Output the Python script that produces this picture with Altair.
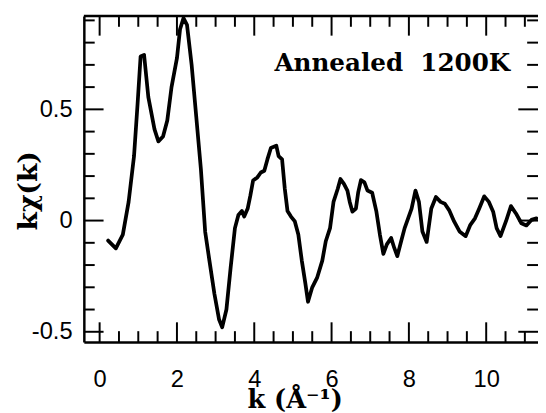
import altair as alt
import pandas as pd

# ---- data ----
K = [0.22, 0.42, 0.60, 0.75, 0.89, 0.98, 1.06, 1.15, 1.26, 1.42, 1.52, 1.64, 1.75, 1.86,
     2.00, 2.08, 2.17, 2.26, 2.38, 2.50, 2.62, 2.73, 2.84, 2.97, 3.09, 3.17, 3.28, 3.39,
     3.50, 3.59, 3.68, 3.74, 3.83, 3.90, 3.97, 4.08, 4.17, 4.26, 4.34, 4.43, 4.57, 4.63,
     4.72, 4.79, 4.86, 4.95, 5.05, 5.14, 5.23, 5.32, 5.39, 5.50, 5.63, 5.76, 5.85, 5.96,
     6.05, 6.16, 6.23, 6.32, 6.41, 6.47, 6.54, 6.63, 6.69, 6.76, 6.85, 6.93, 7.05, 7.16,
     7.25, 7.34, 7.43, 7.54, 7.62, 7.70, 7.80, 7.89, 7.98, 8.07, 8.17, 8.26, 8.35, 8.46,
     8.58, 8.70, 8.82, 8.93, 9.04, 9.17, 9.31, 9.47, 9.59, 9.71, 9.82, 9.95, 10.07, 10.18,
     10.27, 10.37, 10.51, 10.64, 10.77, 10.91, 11.04, 11.17, 11.30]
KCHI = [-0.090, -0.125, -0.063, 0.084, 0.290, 0.520, 0.738, 0.745, 0.555, 0.410, 0.356,
        0.378, 0.450, 0.600, 0.730, 0.860, 0.910, 0.880, 0.700, 0.466, 0.230, -0.050,
        -0.180, -0.330, -0.445, -0.480, -0.400, -0.210, -0.034, 0.025, 0.043, 0.018,
        0.054, 0.113, 0.180, 0.194, 0.216, 0.224, 0.275, 0.326, 0.337, 0.290, 0.275,
        0.143, 0.043, 0.018, -0.004, -0.063, -0.180, -0.280, -0.365, -0.300, -0.255,
        -0.180, -0.093, -0.034, 0.084, 0.143, 0.187, 0.165, 0.135, 0.084, 0.040, 0.054,
        0.128, 0.182, 0.172, 0.135, 0.125, 0.040, -0.063, -0.150, -0.107, -0.078,
        -0.122, -0.160, -0.093, -0.034, 0.010, 0.054, 0.135, 0.084, -0.049, -0.096,
        0.054, 0.106, 0.084, 0.076, 0.047, -0.004, -0.049, -0.070, -0.019, 0.010, 0.054,
        0.109, 0.084, 0.040, -0.034, -0.070, -0.004, 0.065, 0.032, -0.012, -0.022,
        0.003, 0.010]

X_MAJOR = [0, 2, 4, 6, 8, 10]
X_MINOR = [0.5, 1, 1.5, 2.5, 3, 3.5, 4.5, 5, 5.5, 6.5, 7, 7.5, 8.5, 9, 9.5, 10.5, 11]
Y_MAJOR = [-0.5, 0, 0.5]
Y_MINOR = [-0.4, -0.3, -0.2, -0.1, 0.1, 0.2, 0.3, 0.4, 0.6, 0.7, 0.8, 0.9]
X_DOMAIN = [-0.408, 11.34]
Y_DOMAIN = [-0.546, 0.92]

NOTE_TEXT = ["Annealed\u00a0\u00a01200K"]
NOTE_K = [10.62]
NOTE_Y = [0.671]

W, H = 461, 331
MAJ, MIN = 20, 11
SERIF = "DejaVu Serif"

xs = alt.Scale(domain=X_DOMAIN, nice=False, zero=False)
ys = alt.Scale(domain=Y_DOMAIN, nice=False, zero=False)

XAXIS = alt.Axis(
    values=X_MAJOR, ticks=False, grid=False, labelPadding=26,
    title="k (Å⁻¹)", titleFont=SERIF, titleFontWeight="bold", titleFontSize=26,
    titleX=214, titleY=66, titleAlign="center", titleBaseline="alphabetic",
    titleAnchor="start")
YAXIS = alt.Axis(
    values=Y_MAJOR, ticks=False, grid=False, labelPadding=12,
    labelExpr="datum.value == 0 ? '0' : (datum.value < 0 ? '-' + format(-datum.value, '.1f') : format(datum.value, '.1f'))",
    title="kχ(k)", titleFont=SERIF, titleFontWeight="bold", titleFontSize=27,
    titleAngle=270, titleX=-48, titleY=177, titleAlign="center",
    titleBaseline="alphabetic", titleAnchor="start")

curve = pd.DataFrame({"k": K, "kchi": KCHI})

line = alt.Chart(curve).mark_line(
    color="black", strokeWidth=3.8, strokeJoin="round", strokeCap="round", clip=True
).encode(
    x=alt.X("k:Q", scale=xs, axis=XAXIS),
    y=alt.Y("kchi:Q", scale=ys, axis=YAXIS),
)

def xticks(vals, length, top):
    df = pd.DataFrame({"k": vals})
    if top:
        y0, y1 = 0, length
    else:
        y0, y1 = H, H - length
    return alt.Chart(df).mark_rule(color="black", strokeWidth=2).encode(
        x=alt.X("k:Q", scale=xs, axis=XAXIS),
        y=alt.value(y0), y2=alt.value(y1))

def yticks(vals, length, right):
    df = pd.DataFrame({"kchi": vals})
    if right:
        x0, x1 = W, W - length
    else:
        x0, x1 = 0, length
    return alt.Chart(df).mark_rule(color="black", strokeWidth=2).encode(
        y=alt.Y("kchi:Q", scale=ys, axis=YAXIS),
        x=alt.value(x0), x2=alt.value(x1))

top_frame = alt.Chart(pd.DataFrame({"k": [X_DOMAIN[0]]})).mark_rule(
    color="black", strokeWidth=2.5).encode(
    x=alt.value(0), x2=alt.value(W), y=alt.value(0))

note = alt.Chart(pd.DataFrame({"k": NOTE_K, "kchi": NOTE_Y, "t": NOTE_TEXT})).mark_text(
    font=SERIF, fontWeight="bold", fontSize=25, align="right", baseline="alphabetic",
    color="black").encode(
    x=alt.X("k:Q", scale=xs, axis=XAXIS),
    y=alt.Y("kchi:Q", scale=ys, axis=YAXIS),
    text="t:N")

chart = alt.layer(
    line,
    xticks(X_MAJOR, MAJ, False), xticks(X_MINOR, MIN, False),
    xticks(X_MAJOR, MAJ, True), xticks(X_MINOR, MIN, True),
    yticks(Y_MAJOR, MAJ, False), yticks(Y_MINOR, MIN, False),
    yticks(Y_MAJOR, MAJ, True), yticks(Y_MINOR, MIN, True),
    top_frame, note,
).properties(
    width=W, height=H,
    autosize=alt.AutoSizeParams(type="none"),
    padding={"left": 77, "top": 5, "right": 0, "bottom": 69},
).configure_view(stroke=None).configure_axis(
    labelFont="Liberation Sans", labelFontSize=24, labelColor="black",
    domainColor="black", domainWidth=2.5, titleColor="black",
)

chart.save("out.html", embed_options={"renderer": "svg", "actions": False})
